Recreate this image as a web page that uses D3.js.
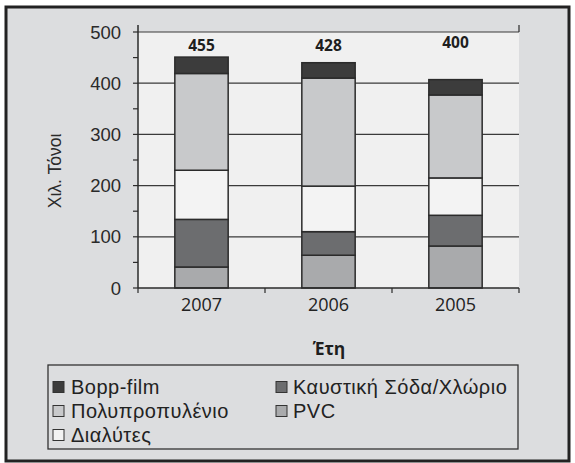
<!DOCTYPE html>
<html><head><meta charset="utf-8">
<script src="https://cdn.jsdelivr.net/npm/d3@7"></script>
<style>html,body{margin:0;padding:0;background:#fff;}svg{display:block;}</style>
</head><body>
<script>
const categories = ["2007", "2006", "2005"];
const seriesNames = ["PVC", "Καυστική Σόδα/Χλώριο", "Διαλύτες", "Πολυπροπυλένιο", "Bopp-film"];
const pvc = [41, 64, 82];
const kaustiki = [93, 46, 60];
const dialytes = [96, 89, 73];
const polyprop = [189, 211, 162];
const bopp = [32, 30, 30];
const totalLabels = ["455", "428", "400"];
const yTicks = [0, 100, 200, 300, 400, 500];
const colors = {"PVC":"#a9aaac","Καυστική Σόδα/Χλώριο":"#6c6d6f","Διαλύτες":"#f3f3f3","Πολυπροπυλένιο":"#c8c9cb","Bopp-film":"#3c3c3c"};

const W = 575, H = 463;
const svg = d3.select("body").append("svg").attr("width", W).attr("height", H);
svg.append("rect").attr("x",0).attr("y",0).attr("width",W).attr("height",H).attr("fill","#fff");
svg.append("rect").attr("x",6).attr("y",7).attr("width",563).attr("height",454)
  .attr("fill","#dcdddf").attr("stroke","#222").attr("stroke-width",3);

const L = 138, R = 519, T = 32, B = 288;
const x = d3.scaleBand().domain(categories).range([L, R]).paddingInner(0.58).paddingOuter(0.29);
const y = d3.scaleLinear().domain([0, 500]).range([B, T]);

svg.append("rect").attr("x",L).attr("y",T).attr("width",R-L).attr("height",B-T).attr("fill","#f0f0f0");

// gridlines
svg.append("g").selectAll("line").data(yTicks.slice(1)).join("line")
  .attr("x1",L).attr("x2",R).attr("y1",d=>y(d)).attr("y2",d=>y(d))
  .attr("stroke","#3a3a3a").attr("stroke-width",1.2);

const table = categories.map((c,i)=>({cat:c,"PVC":pvc[i],"Καυστική Σόδα/Χλώριο":kaustiki[i],"Διαλύτες":dialytes[i],"Πολυπροπυλένιο":polyprop[i],"Bopp-film":bopp[i]}));
const stack = d3.stack().keys(seriesNames)(table);

svg.append("g").selectAll("g").data(stack).join("g")
  .attr("fill", d=>colors[d.key])
  .selectAll("rect").data(d=>d).join("rect")
  .attr("x", d=>x(d.data.cat)).attr("width", x.bandwidth())
  .attr("y", d=>y(d[1])).attr("height", d=>y(d[0])-y(d[1]))
  .attr("stroke","#2b2b2b").attr("stroke-width",1.5);

// y axis
const yAxis = svg.append("g");
yAxis.append("line").attr("x1",L).attr("x2",L).attr("y1",25).attr("y2",B).attr("stroke","#2b2b2b").attr("stroke-width",1.5);
yAxis.selectAll("line.t").data(d3.range(0,501,50)).join("line").attr("class","t")
  .attr("x1",L-5).attr("x2",L).attr("y1",d=>y(d)).attr("y2",d=>y(d)).attr("stroke","#2b2b2b").attr("stroke-width",1.2);
yAxis.selectAll("text").data(yTicks).join("text")
  .attr("x",121).attr("y",d=>y(d)).attr("dy","0.36em").attr("text-anchor","end")
  .attr("font-family","Liberation Sans, Arial, sans-serif").attr("font-size",18.5).attr("fill","#2a2a2a")
  .text(d=>d);
svg.append("line").attr("x1",R).attr("x2",R).attr("y1",25).attr("y2",T).attr("stroke","#2b2b2b").attr("stroke-width",1.2);

// x axis
const xAxis = svg.append("g");
xAxis.append("line").attr("x1",L).attr("x2",R).attr("y1",B).attr("y2",B).attr("stroke","#2b2b2b").attr("stroke-width",1.5);
const bounds = [L].concat(categories.map(c=>x(c)+x.bandwidth()+x.step()*x.paddingInner()/2)).slice(0,3).concat([R]);
xAxis.selectAll("line.t").data(bounds).join("line").attr("class","t")
  .attr("x1",d=>d).attr("x2",d=>d).attr("y1",B).attr("y2",B+5).attr("stroke","#2b2b2b").attr("stroke-width",1.2);
xAxis.selectAll("text").data(categories).join("text")
  .attr("x",d=>x(d)+x.bandwidth()/2).attr("y",311).attr("text-anchor","middle")
  .attr("font-family","Open Sans, sans-serif").attr("font-size",18).attr("font-weight",500).attr("fill","#222")
  .text(d=>d);

// total labels
svg.append("g").selectAll("text").data(categories).join("text")
  .attr("x",d=>x(d)+x.bandwidth()/2).attr("y",(d,i)=>i===2?48:51).attr("text-anchor","middle")
  .attr("font-family","Open Sans, sans-serif").attr("font-size",15.5).attr("font-weight",700).attr("fill","#1e1e1e")
  .text((d,i)=>totalLabels[i]);

// axis titles
svg.append("text").attr("transform","translate(61,171) rotate(-90)").attr("text-anchor","middle")
  .attr("font-family","Liberation Sans, Arial, sans-serif").attr("font-size",17.5).attr("fill","#2a2a2a").text("Χιλ. Τόνοι");
svg.append("text").attr("x",329).attr("y",355).attr("text-anchor","middle")
  .attr("font-family","Open Sans, sans-serif").attr("font-size",17.5).attr("font-weight",700).attr("fill","#1e1e1e").text("Έτη");

// legend
svg.append("rect").attr("x",48).attr("y",365).attr("width",470).attr("height",84)
  .attr("fill","none").attr("stroke","#333").attr("stroke-width",1.3);
const legendItems = [
  {name:"Bopp-film", col:0, row:0},
  {name:"Καυστική Σόδα/Χλώριο", col:1, row:0},
  {name:"Πολυπροπυλένιο", col:0, row:1},
  {name:"PVC", col:1, row:1},
  {name:"Διαλύτες", col:0, row:2}
];
const lg = svg.append("g").selectAll("g").data(legendItems).join("g")
  .attr("transform", d=>`translate(${d.col?276:53},${[387,411,435][d.row]})`);
lg.append("rect").attr("x",0).attr("y",-5.5).attr("width",11).attr("height",11)
  .attr("fill",d=>colors[d.name]).attr("stroke","#333").attr("stroke-width",1);
lg.append("text").attr("x",d=>d.col?17:18).attr("y",0).attr("dy","0.36em")
  .attr("font-family","Liberation Sans, Arial, sans-serif").attr("font-size",20).attr("letter-spacing",0.5).attr("fill","#222")
  .text(d=>d.name);
</script>
</body></html>
